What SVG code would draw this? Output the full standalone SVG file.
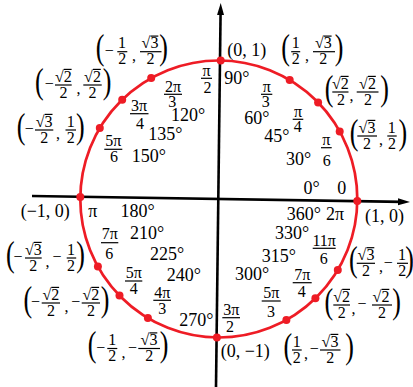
<svg xmlns="http://www.w3.org/2000/svg" width="413" height="387" viewBox="0 0 413 387">
<style>
text{font-family:"Liberation Serif","Times New Roman",serif;fill:#000}
.d{font-size:18px}
.r{font-size:16px;text-anchor:middle}
.c{font-size:16px;text-anchor:middle}
.cm{font-size:16px}
.p{font-size:26px;text-anchor:middle}
.b{stroke:#000;stroke-width:1.2}
.ax{stroke:#000;stroke-width:2.6;fill:none}
.circ{fill:none;stroke:#ee1c25;stroke-width:2.7}
.dot{fill:#ee1c25}
</style>
<defs>
<marker id="ah" markerUnits="userSpaceOnUse" markerWidth="14" markerHeight="8" refX="4" refY="3.5" orient="auto"><path d="M0,0 L12,3.5 L0,7 z" fill="#000"/></marker>
</defs>
<rect width="413" height="387" fill="#fff"/>
<g id="connectors">
<line class="ax" x1="32" y1="196" x2="402" y2="201.87" marker-end="url(#ah)"/>
<line class="ax" x1="216" y1="387" x2="220.6" y2="11" marker-end="url(#ah)"/>
</g>
<g id="unit-circle"><circle class="circ" cx="218.8" cy="199" r="138.5"/></g>

<g id="p0">
<circle class="dot" cx="357.3" cy="200.9" r="4"/>
<text class="d" x="303.5" y="194.3">0°</text><text class="d" x="337.3" y="194.3">0</text>
<text class="d" x="286.7" y="220">360°</text><text class="d" x="326" y="220">2π</text>
<text class="d" x="365" y="222.3">(1, 0)</text>
</g>

<g id="p30">
<circle class="dot" cx="339.7" cy="131.4" r="4"/>
<text class="r" x="326.3" y="145">π</text><line class="b" x1="321" y1="147.7" x2="331.7" y2="147.7"/><text class="r" x="326.7" y="166">6</text>
<text class="d" x="286" y="165">30°</text>
<text class="p" transform="translate(354.2,143.6) scale(1,1.4)">(</text>
<text class="c" x="367" y="132.6">√3</text><line class="b" x1="367.5" y1="120.4" x2="375.3" y2="120.4"/>
<line class="b" x1="357.3" y1="136" x2="377" y2="136"/><text class="c" x="367" y="148.5">2</text>
<text class="cm" x="379" y="145">,</text>
<text class="c" x="391.7" y="132.6">1</text><line class="b" x1="387.3" y1="136" x2="396.7" y2="136"/><text class="c" x="392" y="148.5">2</text>
<text class="p" transform="translate(402.8,143.6) scale(1,1.4)">)</text>
</g>

<g id="p45">
<circle class="dot" cx="318.1" cy="102.4" r="4"/>
<text class="r" x="298" y="116.7">π</text><line class="b" x1="292.7" y1="119.3" x2="303.3" y2="119.3"/><text class="r" x="297.7" y="131.5">4</text>
<text class="d" x="264.3" y="141.5">45°</text>
<text class="p" transform="translate(329.2,99.6) scale(1,1.4)">(</text>
<text class="c" x="340.3" y="88.6">√2</text><line class="b" x1="340.8" y1="76.4" x2="348.6" y2="76.4"/>
<line class="b" x1="332.3" y1="92" x2="348.5" y2="92"/><text class="c" x="341" y="104.5">2</text>
<text class="cm" x="349.5" y="101">,</text>
<text class="c" x="367.5" y="88.6">√2</text><line class="b" x1="368" y1="76.4" x2="375.8" y2="76.4"/>
<line class="b" x1="356.7" y1="92" x2="378.5" y2="92"/><text class="c" x="368" y="104.5">2</text>
<text class="p" transform="translate(384.5,99.6) scale(1,1.4)">)</text>
</g>

<g id="p60">
<circle class="dot" cx="289.7" cy="80" r="4"/>
<text class="r" x="266.7" y="91.7">π</text><line class="b" x1="261" y1="94.3" x2="272.3" y2="94.3"/><text class="r" x="265.7" y="107.3">3</text>
<text class="d" x="244.3" y="124">60°</text>
<text class="p" transform="translate(285.5,59.3) scale(1,1.4)">(</text>
<text class="c" x="295.7" y="48.3">1</text><line class="b" x1="291.2" y1="51.7" x2="300.2" y2="51.7"/><text class="c" x="295.7" y="64.2">2</text>
<text class="cm" x="305" y="60.7">,</text>
<text class="c" x="323.3" y="48.3">√3</text><line class="b" x1="323.8" y1="36.1" x2="331.6" y2="36.1"/>
<line class="b" x1="313" y1="51.7" x2="335" y2="51.7"/><text class="c" x="323.3" y="64.2">2</text>
<text class="p" transform="translate(339.2,59.3) scale(1,1.4)">)</text>
</g>

<g id="p90">
<circle class="dot" cx="220.7" cy="60.5" r="4"/>
<text class="r" x="206.5" y="75.7">π</text><line class="b" x1="201" y1="78.3" x2="212" y2="78.3"/><text class="r" x="207.5" y="92.7">2</text>
<text class="d" x="224.3" y="84.3">90°</text>
<text class="d" x="227.3" y="56">(0, 1)</text>
</g>

<g id="p120">
<circle class="dot" cx="151.2" cy="78.1" r="4"/>
<text class="r" x="173" y="91.7">2π</text><line class="b" x1="164" y1="94.3" x2="182" y2="94.3"/><text class="r" x="172.3" y="106.7">3</text>
<text class="d" x="171" y="120.8">120°</text>
<text class="p" transform="translate(100,59.3) scale(1,1.4)">(</text>
<text class="c" x="109.2" y="55.9">−</text>
<text class="c" x="122" y="48.3">1</text><line class="b" x1="117.3" y1="51.7" x2="127.3" y2="51.7"/><text class="c" x="122.3" y="64.2">2</text>
<text class="cm" x="132" y="60.7">,</text>
<text class="c" x="150" y="48.3">√3</text><line class="b" x1="150.5" y1="36.1" x2="158.3" y2="36.1"/>
<line class="b" x1="140" y1="51.7" x2="161.5" y2="51.7"/><text class="c" x="150.5" y="64.2">2</text>
<text class="p" transform="translate(163.5,59.3) scale(1,1.4)">)</text>
</g>

<g id="p135">
<circle class="dot" cx="122.2" cy="99.7" r="4"/>
<text class="r" x="139" y="111">3π</text><line class="b" x1="130" y1="113.7" x2="148.5" y2="113.7"/><text class="r" x="140" y="129">4</text>
<text class="d" x="148.3" y="140.3">135°</text>
<text class="p" transform="translate(39.3,92.6) scale(1,1.4)">(</text>
<text class="c" x="49.2" y="89.2">−</text>
<text class="c" x="63.3" y="81.6">√2</text><line class="b" x1="63.8" y1="69.4" x2="71.6" y2="69.4"/>
<line class="b" x1="55" y1="85" x2="71.7" y2="85"/><text class="c" x="63.5" y="97.5">2</text>
<text class="cm" x="76.5" y="94">,</text>
<text class="c" x="92.5" y="81.6">√2</text><line class="b" x1="93" y1="69.4" x2="100.8" y2="69.4"/>
<line class="b" x1="83.3" y1="85" x2="101.7" y2="85"/><text class="c" x="92.5" y="97.5">2</text>
<text class="p" transform="translate(107,92.6) scale(1,1.4)">)</text>
</g>

<g id="p150">
<circle class="dot" cx="99.8" cy="128.1" r="4"/>
<text class="r" x="113.3" y="146">5π</text><line class="b" x1="104.3" y1="149.3" x2="122.3" y2="149.3"/><text class="r" x="114" y="162.3">6</text>
<text class="d" x="131.7" y="161.7">150°</text>
<text class="p" transform="translate(21.2,137.6) scale(1,1.4)">(</text>
<text class="c" x="29.2" y="134.2">−</text>
<text class="c" x="44.2" y="126.6">√3</text><line class="b" x1="44.7" y1="114.4" x2="52.5" y2="114.4"/>
<line class="b" x1="35" y1="130" x2="53.3" y2="130"/><text class="c" x="44.2" y="142.5">2</text>
<text class="cm" x="56" y="139">,</text>
<text class="c" x="70.7" y="126.6">1</text><line class="b" x1="65.5" y1="130" x2="76" y2="130"/><text class="c" x="70.7" y="142.5">2</text>
<text class="p" transform="translate(80.3,137.6) scale(1,1.4)">)</text>
</g>

<g id="p180">
<circle class="dot" cx="80.3" cy="197.1" r="4"/>
<text class="d" x="88.3" y="216.7">π</text>
<text class="d" x="120.5" y="217">180°</text>
<text class="d" x="20.7" y="217.3">(−1, 0)</text>
</g>

<g id="p210">
<circle class="dot" cx="97.9" cy="266.6" r="4"/>
<text class="r" x="109.7" y="239.3">7π</text><line class="b" x1="101" y1="242.7" x2="118.3" y2="242.7"/><text class="r" x="109.3" y="259">6</text>
<text class="d" x="130" y="239.3">210°</text>
<text class="p" transform="translate(10.3,265.6) scale(1,1.4)">(</text>
<text class="c" x="18" y="262.2">−</text>
<text class="c" x="33.3" y="254.6">√3</text><line class="b" x1="33.8" y1="242.4" x2="41.6" y2="242.4"/>
<line class="b" x1="25" y1="258" x2="41.7" y2="258"/><text class="c" x="33.3" y="270.5">2</text>
<text class="cm" x="45.5" y="267">,</text>
<text class="c" x="57" y="262.2">−</text>
<text class="c" x="71" y="254.6">1</text><line class="b" x1="66.7" y1="258" x2="76.2" y2="258"/><text class="c" x="71" y="270.5">2</text>
<text class="p" transform="translate(80.5,265.6) scale(1,1.4)">)</text>
</g>

<g id="p225">
<circle class="dot" cx="119.5" cy="295.6" r="4"/>
<text class="r" x="133.7" y="278.3">5π</text><line class="b" x1="125" y1="281" x2="142.3" y2="281"/><text class="r" x="133.7" y="294.3">4</text>
<text class="d" x="150" y="260">225°</text>
<text class="p" transform="translate(27.8,310.6) scale(1,1.4)">(</text>
<text class="c" x="35.5" y="307.2">−</text>
<text class="c" x="50.8" y="299.6">√2</text><line class="b" x1="51.3" y1="287.4" x2="59.1" y2="287.4"/>
<line class="b" x1="41.7" y1="303" x2="60" y2="303"/><text class="c" x="51" y="315.5">2</text>
<text class="cm" x="64.5" y="312">,</text>
<text class="c" x="75.8" y="307.2">−</text>
<text class="c" x="90.8" y="299.6">√2</text><line class="b" x1="91.3" y1="287.4" x2="99.1" y2="287.4"/>
<line class="b" x1="81.7" y1="303" x2="100" y2="303"/><text class="c" x="91" y="315.5">2</text>
<text class="p" transform="translate(105,310.6) scale(1,1.4)">)</text>
</g>

<g id="p240">
<circle class="dot" cx="147.9" cy="318" r="4"/>
<text class="r" x="162.2" y="297.7">4π</text><line class="b" x1="153.3" y1="300.3" x2="171" y2="300.3"/><text class="r" x="162.3" y="314.3">3</text>
<text class="d" x="166.7" y="281">240°</text>
<text class="p" transform="translate(92.2,356.1) scale(1,1.4)">(</text>
<text class="c" x="100.8" y="352.7">−</text>
<text class="c" x="112.3" y="345.1">1</text><line class="b" x1="107.3" y1="348.5" x2="117.3" y2="348.5"/><text class="c" x="112.3" y="361">2</text>
<text class="cm" x="121.5" y="357.5">,</text>
<text class="c" x="132.5" y="352.7">−</text>
<text class="c" x="149" y="345.1">√3</text><line class="b" x1="149.5" y1="332.9" x2="157.3" y2="332.9"/>
<line class="b" x1="138.3" y1="348.5" x2="160" y2="348.5"/><text class="c" x="149.2" y="361">2</text>
<text class="p" transform="translate(164.2,356.1) scale(1,1.4)">)</text>
</g>

<g id="p270">
<circle class="dot" cx="216.9" cy="337.5" r="4"/>
<text class="r" x="231.2" y="315">3π</text><line class="b" x1="222.3" y1="317.7" x2="240" y2="317.7"/><text class="r" x="230" y="331.7">2</text>
<text class="d" x="179.3" y="325.7">270°</text>
<text class="d" x="220.7" y="357">(0, −1)</text>
</g>

<g id="p300">
<circle class="dot" cx="286.4" cy="319.9" r="4"/>
<text class="r" x="271.2" y="298.3">5π</text><line class="b" x1="261.7" y1="301" x2="280.7" y2="301"/><text class="r" x="271" y="316.7">3</text>
<text class="d" x="235" y="280">300°</text>
<text class="p" transform="translate(287.8,357.6) scale(1,1.4)">(</text>
<text class="c" x="296.7" y="346.6">1</text><line class="b" x1="292" y1="350" x2="301.7" y2="350"/><text class="c" x="296.8" y="362.5">2</text>
<text class="cm" x="304" y="359">,</text>
<text class="c" x="314.2" y="354.2">−</text>
<text class="c" x="330" y="346.6">√3</text><line class="b" x1="330.5" y1="334.4" x2="338.3" y2="334.4"/>
<line class="b" x1="320" y1="350" x2="340.5" y2="350"/><text class="c" x="330.3" y="362.5">2</text>
<text class="p" transform="translate(349.7,357.6) scale(1,1.4)">)</text>
</g>

<g id="p315">
<circle class="dot" cx="315.4" cy="298.3" r="4"/>
<text class="r" x="302.2" y="280">7π</text><line class="b" x1="292.7" y1="282.7" x2="311.7" y2="282.7"/><text class="r" x="301.7" y="296.7">4</text>
<text class="d" x="261.7" y="261.7">315°</text>
<text class="p" transform="translate(328.8,312.6) scale(1,1.4)">(</text>
<text class="c" x="341.7" y="301.6">√2</text><line class="b" x1="342.2" y1="289.4" x2="350" y2="289.4"/>
<line class="b" x1="333.3" y1="305" x2="350" y2="305"/><text class="c" x="341.7" y="317.5">2</text>
<text class="cm" x="351.5" y="314">,</text>
<text class="c" x="362" y="309.2">−</text>
<text class="c" x="381" y="301.6">√2</text><line class="b" x1="381.5" y1="289.4" x2="389.3" y2="289.4"/>
<line class="b" x1="372" y1="305" x2="392" y2="305"/><text class="c" x="382" y="317.5">2</text>
<text class="p" transform="translate(396.7,312.6) scale(1,1.4)">)</text>
</g>

<g id="p330">
<circle class="dot" cx="337.8" cy="269.9" r="4"/>
<text class="r" x="324.2" y="245.7">11π</text><line class="b" x1="312.7" y1="248.3" x2="335.7" y2="248.3"/><text class="r" x="323.7" y="264">6</text>
<text class="d" x="275" y="239.3">330°</text>
<text class="p" transform="translate(353.3,270.9) scale(1,1.4)">(</text>
<text class="c" x="366" y="259.9">√3</text><line class="b" x1="366.5" y1="247.7" x2="374.3" y2="247.7"/>
<line class="b" x1="356.7" y1="263.3" x2="375" y2="263.3"/><text class="c" x="366" y="275.8">2</text>
<text class="cm" x="379" y="272.3">,</text>
<text class="c" x="388.3" y="267.5">−</text>
<text class="c" x="402" y="259.9">1</text><line class="b" x1="397" y1="263.3" x2="408" y2="263.3"/><text class="c" x="402.3" y="275.8">2</text>
<text class="p" transform="translate(409.5,270.9) scale(1,1.4)">)</text>
</g>
</svg>
